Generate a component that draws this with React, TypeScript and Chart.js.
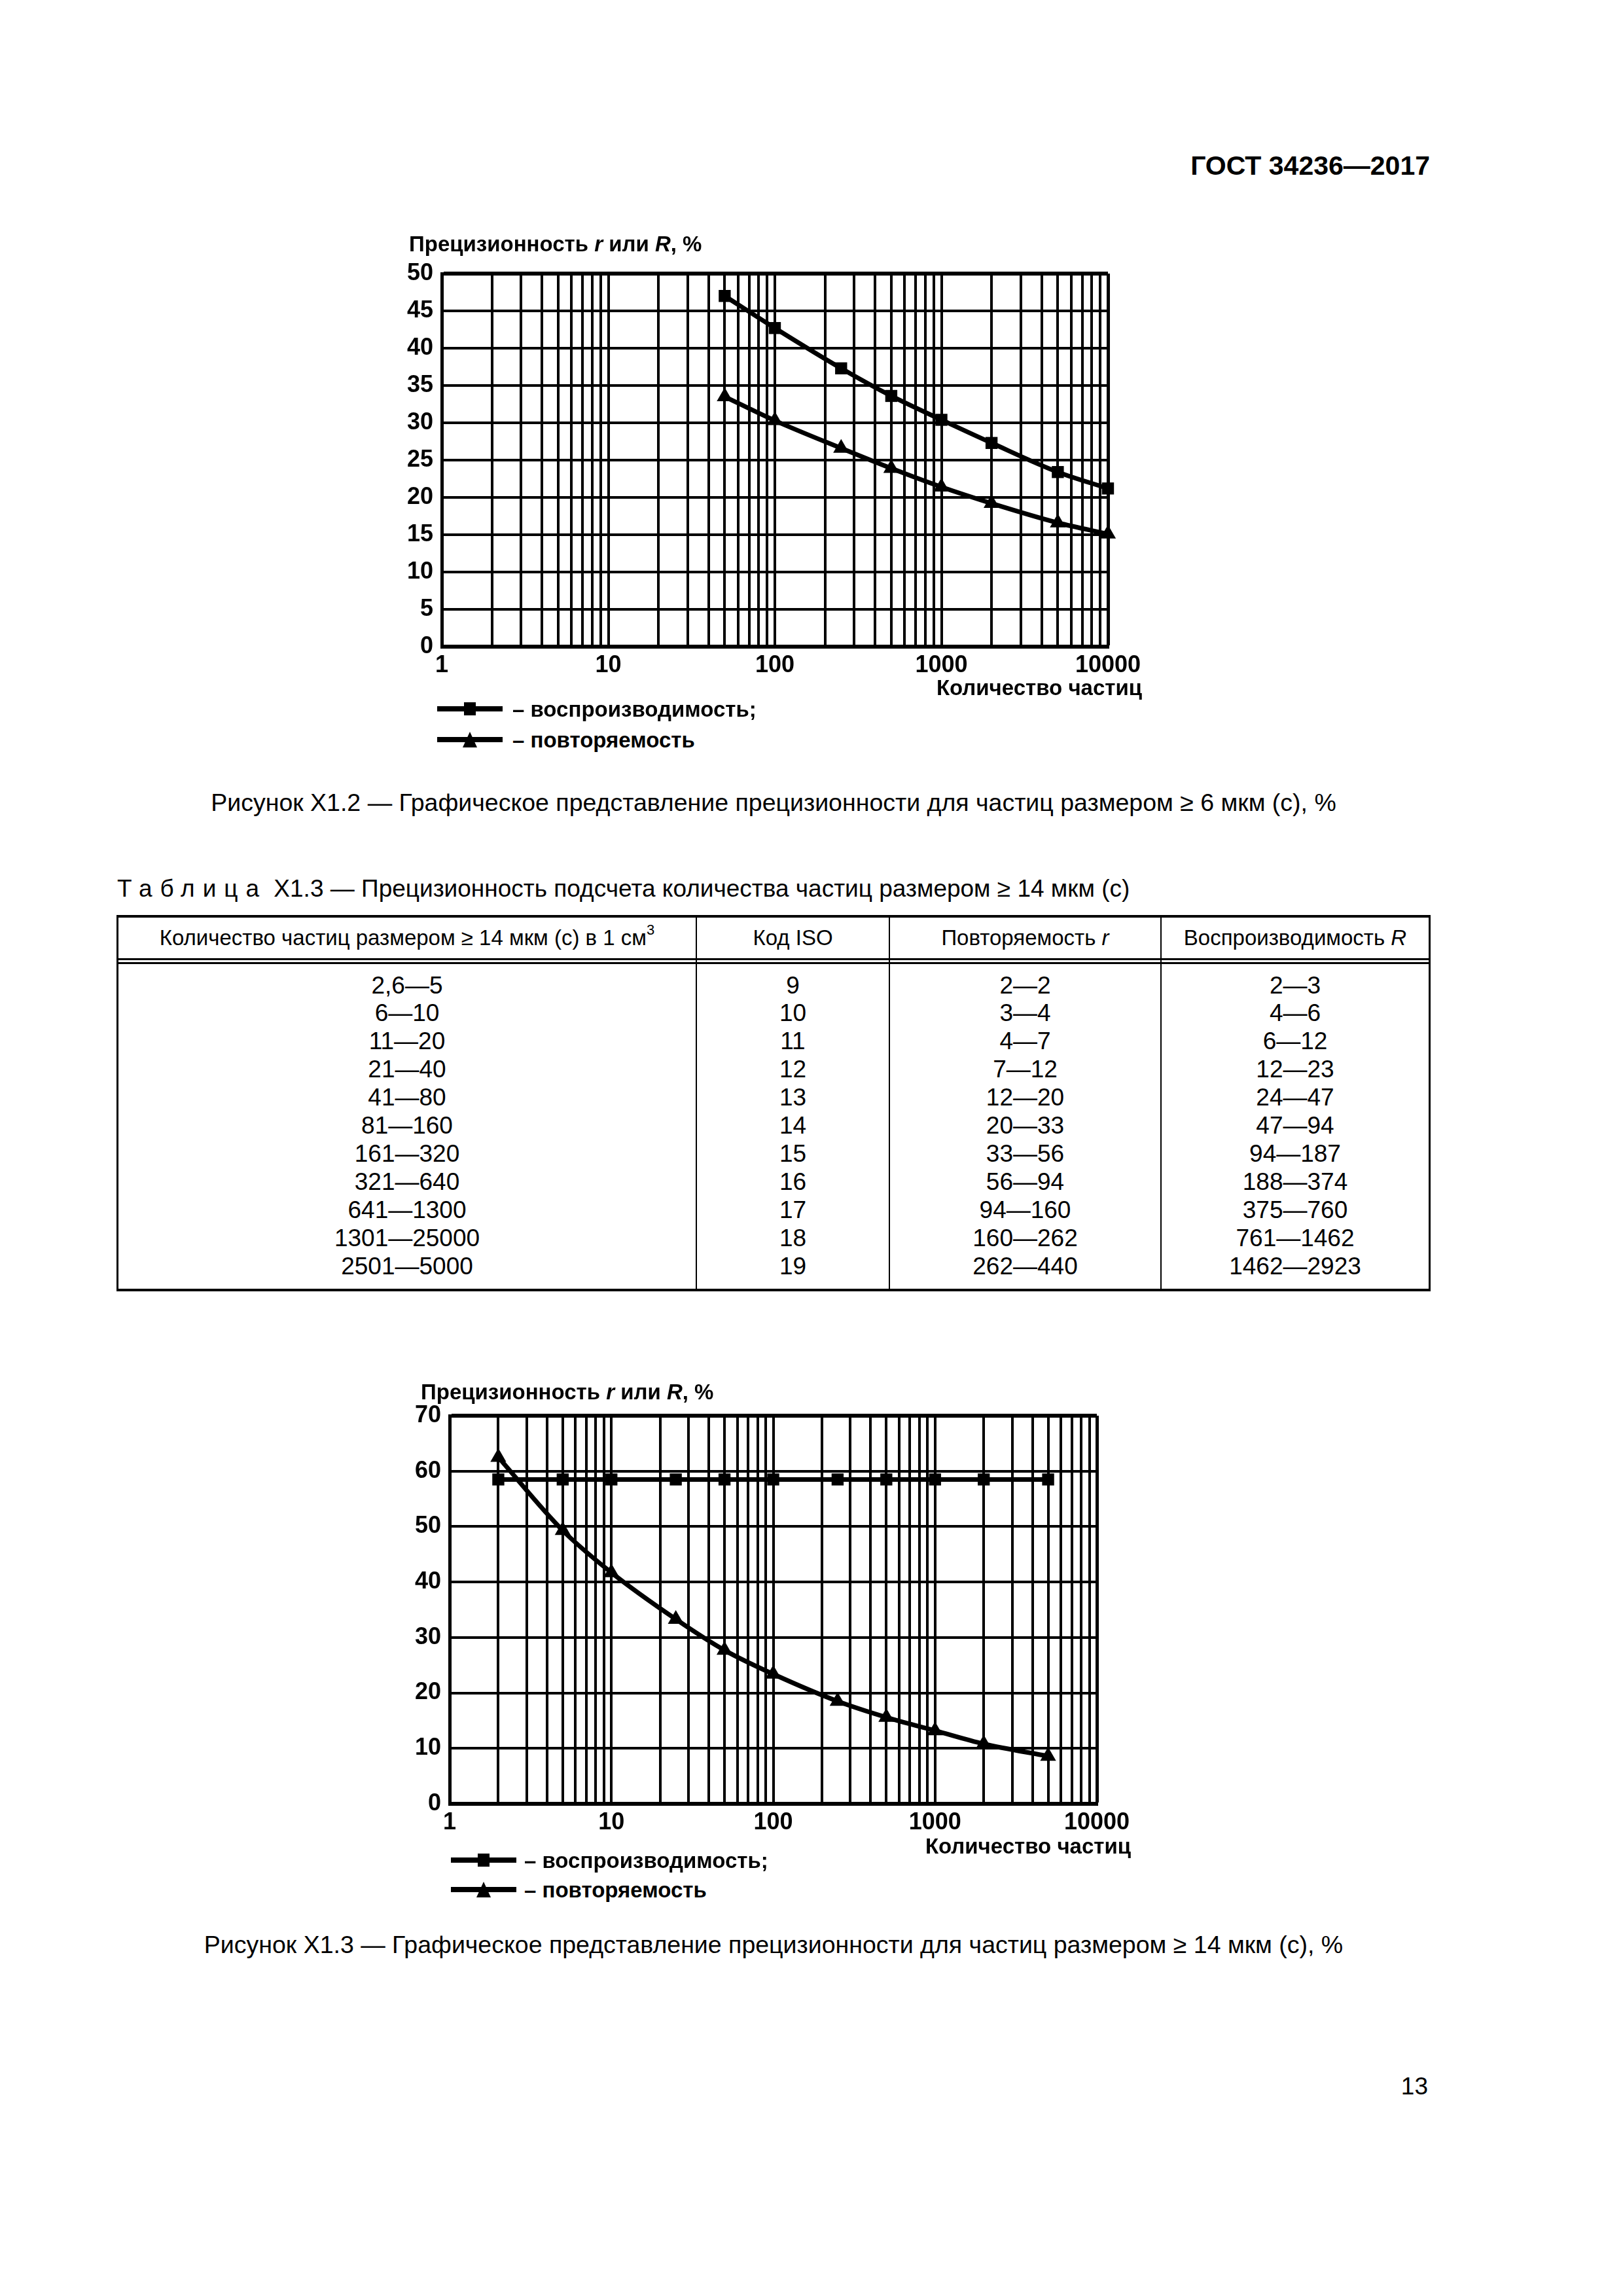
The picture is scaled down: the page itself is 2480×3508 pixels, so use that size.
import React, { useEffect, useRef } from "react";
import { Chart, registerables } from "chart.js";

Chart.register(...registerables);

const FONT = '"Liberation Sans", Arial, Helvetica, sans-serif';

// ---------- Figure X1.2 (particles >= 6 um) ----------
const fig2Counts = [50, 100, 250, 500, 1000, 2000, 5000, 10000];
const fig2Reproducibility = [47.0, 42.7, 37.3, 33.6, 30.4, 27.3, 23.4, 21.2];
const fig2Repeatability = [33.5, 30.3, 26.6, 23.9, 21.4, 19.2, 16.6, 15.1];

// ---------- Figure X1.3 (particles >= 14 um) ----------
const fig3Counts = [2, 5, 10, 25, 50, 100, 250, 500, 1000, 2000, 5000];
const fig3Reproducibility = [58.5, 58.5, 58.5, 58.5, 58.5, 58.5, 58.5, 58.5, 58.5, 58.5, 58.5];
const fig3Repeatability = [62.5, 49.3, 41.7, 33.3, 27.7, 23.4, 18.5, 15.6, 13.2, 10.8, 8.6];

// ---------- Axes ----------
const xDecades = [1, 10, 100, 1000, 10000];
const xDecadeLabels = ["1", "10", "100", "1000", "10000"];
const yTitleMain = "Прецизионность ";
const xTitle = "Количество частиц";
const seriesLabels = ["– воспроизводимость;", "– повторяемость"];

// ---------- Table X1.3 ----------
const tableCounts = ["2,6—5", "6—10", "11—20", "21—40", "41—80", "81—160", "161—320", "321—640", "641—1300", "1301—25000", "2501—5000"];
const tableIso = ["9", "10", "11", "12", "13", "14", "15", "16", "17", "18", "19"];
const tableRepeat = ["2—2", "3—4", "4—7", "7—12", "12—20", "20—33", "33—56", "56—94", "94—160", "160—262", "262—440"];
const tableReprod = ["2—3", "4—6", "6—12", "12—23", "24—47", "47—94", "94—187", "188—374", "375—760", "761—1462", "1462—2923"];

// minor log ticks (1..9 per decade) derived from the decades
const logTicks: number[] = [];
for (let d = 0; d < xDecades.length - 1; d++) {
  for (let m = 1; m <= 9; m++) logTicks.push(m * xDecades[d]);
}
logTicks.push(xDecades[xDecades.length - 1]);

type ChartBoxProps = {
  left: number;
  top: number;
  width: number;
  height: number;
  yAxisWidth: number;
  xAxisHeight: number;
  padTop: number;
  padRight: number;
  counts: number[];
  reprod: number[];
  repeat: number[];
  yMax: number;
  yStep: number;
};

function PrecisionChart(p: ChartBoxProps) {
  const ref = useRef<HTMLCanvasElement | null>(null);
  useEffect(() => {
    if (!ref.current) return;
    const tickFont = { family: FONT, size: 36, weight: "bold" as const };
    const mk = (vals: number[]) => p.counts.map((x, i) => ({ x, y: vals[i] }));
    const chart = new Chart(ref.current, {
      type: "line",
      data: {
        datasets: [
          {
            label: seriesLabels[0],
            data: mk(p.reprod),
            borderColor: "#000",
            backgroundColor: "#000",
            borderWidth: 7,
            pointStyle: "rect",
            pointRadius: 13,
            pointBackgroundColor: "#000",
            pointBorderWidth: 0,
            cubicInterpolationMode: "monotone",
            clip: false as any,
          },
          {
            label: seriesLabels[1],
            data: mk(p.repeat),
            borderColor: "#000",
            backgroundColor: "#000",
            borderWidth: 7,
            pointStyle: "triangle",
            pointRadius: 14,
            pointBackgroundColor: "#000",
            pointBorderWidth: 0,
            cubicInterpolationMode: "monotone",
            clip: false as any,
          },
        ],
      },
      options: {
        responsive: false,
        maintainAspectRatio: false,
        animation: false,
        devicePixelRatio: 1,
        layout: { padding: { top: p.padTop, right: p.padRight, left: 0, bottom: 0 } },
        plugins: { legend: { display: false }, tooltip: { enabled: false }, title: { display: false } },
        scales: {
          x: {
            type: "logarithmic",
            min: xDecades[0],
            max: xDecades[xDecades.length - 1],
            afterBuildTicks: (scale: any) => {
              scale.ticks = logTicks.map((v) => ({ value: v }));
            },
            afterFit: (scale: any) => {
              scale.height = p.xAxisHeight;
            },
            ticks: {
              autoSkip: false,
              maxRotation: 0,
              minRotation: 0,
              padding: 7,
              color: "#000",
              font: tickFont,
              callback: (v: any) => {
                const i = xDecades.indexOf(Number(v));
                return i >= 0 ? xDecadeLabels[i] : "";
              },
            },
            grid: {
              color: "#000",
              lineWidth: (c: any) => (c.tick && c.tick.value === xDecades[xDecades.length - 1] ? 5 : 4),
              drawTicks: false,
            },
            border: { color: "#000", width: 5 },
          },
          y: {
            type: "linear",
            min: 0,
            max: p.yMax,
            afterFit: (scale: any) => {
              scale.width = p.yAxisWidth;
            },
            ticks: {
              stepSize: p.yStep,
              padding: 13,
              color: "#000",
              font: tickFont,
            },
            grid: {
              color: "#000",
              lineWidth: (c: any) => (c.tick && (c.tick.value === p.yMax || c.tick.value === 0) ? 6 : 4),
              drawTicks: false,
            },
            border: { color: "#000", width: 5 },
          },
        },
      },
    });
    return () => chart.destroy();
  }, []);
  return (
    <canvas
      ref={ref}
      width={p.width}
      height={p.height}
      style={{ position: "absolute", left: p.left, top: p.top, width: p.width, height: p.height }}
    />
  );
}

type TxtProps = {
  x: number;
  y: number;
  size: number;
  bold?: boolean;
  align?: "left" | "right" | "center";
  style?: React.CSSProperties;
  children?: React.ReactNode;
};

function Txt({ x, y, size, bold, align = "left", style, children }: TxtProps) {
  const s: React.CSSProperties = {
    position: "absolute",
    top: y - size / 2,
    fontSize: size,
    lineHeight: `${size}px`,
    fontWeight: bold ? 700 : 400,
    whiteSpace: "nowrap",
    fontFamily: FONT,
    color: "#000",
  };
  if (align === "left") s.left = x;
  else if (align === "right") s.right = 2480 - x;
  else {
    s.left = x;
    s.transform = "translateX(-50%)";
  }
  return <div style={{ ...s, ...style }}>{children}</div>;
}

function LegendIcon({ x, y, marker }: { x: number; y: number; marker: "rect" | "triangle" }) {
  return (
    <svg style={{ position: "absolute", left: x, top: y - 15 }} width={100} height={30}>
      <line x1={0} y1={15} x2={100} y2={15} stroke="#000" strokeWidth={8} />
      {marker === "rect" ? (
        <rect x={41} y={5} width={18} height={20} fill="#000" />
      ) : (
        <polygon points="50,3 61,27 39,27" fill="#000" />
      )}
    </svg>
  );
}

function Line({ x, y, w, h }: { x: number; y: number; w: number; h: number }) {
  return <div style={{ position: "absolute", left: x, top: y, width: w, height: h, background: "#000" }} />;
}

function ChartTitle({ x, y }: { x: number; y: number }) {
  return (
    <Txt x={x} y={y} size={33} bold>
      {yTitleMain}
      <i>r</i> или <i>R</i>, %
    </Txt>
  );
}

function Figure({
  titleX,
  titleY,
  xTitleRight,
  xTitleY,
  legendX,
  legendTextX,
  legendY1,
  legendY2,
}: {
  titleX: number;
  titleY: number;
  xTitleRight: number;
  xTitleY: number;
  legendX: number;
  legendTextX: number;
  legendY1: number;
  legendY2: number;
}) {
  return (
    <>
      <ChartTitle x={titleX} y={titleY} />
      <Txt x={xTitleRight} y={xTitleY} size={33} bold align="right">
        {xTitle}
      </Txt>
      <LegendIcon x={legendX} y={legendY1} marker="rect" />
      <Txt x={legendTextX} y={legendY1} size={33} bold>
        {seriesLabels[0]}
      </Txt>
      <LegendIcon x={legendX} y={legendY2} marker="triangle" />
      <Txt x={legendTextX} y={legendY2} size={33} bold>
        {seriesLabels[1]}
      </Txt>
    </>
  );
}

function Table() {
  const colX = [180, 1064, 1359, 1774, 2184];
  const top = 1400;
  const bottom = 1971;
  const centers = colX.slice(0, 4).map((x, i) => (x + colX[i + 1]) / 2);
  const rowY0 = 1505;
  const rowStep = 42.9;
  const fs = 37;
  const hs = 33;
  const cols = [tableCounts, tableIso, tableRepeat, tableReprod];
  return (
    <>
      <Line x={colX[0] - 2} y={top - 2} w={colX[4] - colX[0] + 4} h={4} />
      <Line x={colX[0] - 2} y={1464} w={colX[4] - colX[0] + 4} h={3} />
      <Line x={colX[0] - 2} y={1470} w={colX[4] - colX[0] + 4} h={3} />
      <Line x={colX[0] - 2} y={bottom - 2} w={colX[4] - colX[0] + 4} h={4} />
      <Line x={colX[0] - 2} y={top - 2} w={3} h={bottom - top + 4} />
      <Line x={colX[4] - 1} y={top - 2} w={3} h={bottom - top + 4} />
      {colX.slice(1, 4).map((x, i) => (
        <Line key={i} x={x - 1} y={top} w={2} h={bottom - top} />
      ))}
      <Txt x={centers[0]} y={1432} size={hs} align="center">
        Количество частиц размером ≥ 14 мкм (с) в 1 см
        <sup style={{ fontSize: 22, verticalAlign: "top", lineHeight: "22px", position: "relative", top: -6 }}>3</sup>
      </Txt>
      <Txt x={centers[1]} y={1432} size={hs} align="center">
        Код ISO
      </Txt>
      <Txt x={centers[2]} y={1432} size={hs} align="center">
        Повторяемость <i>r</i>
      </Txt>
      <Txt x={centers[3]} y={1432} size={hs} align="center">
        Воспроизводимость <i>R</i>
      </Txt>
      {cols.map((col, c) =>
        col.map((v, r) => (
          <Txt key={`${c}-${r}`} x={centers[c]} y={rowY0 + r * rowStep} size={fs} align="center">
            {v}
          </Txt>
        ))
      )}
    </>
  );
}

export default function App() {
  return (
    <div
      style={{
        position: "absolute",
        left: 0,
        top: 0,
        width: 2480,
        height: 3508,
        background: "#fff",
        overflow: "hidden",
        fontFamily: FONT,
      }}
    >
      <Txt x={2185} y={253} size={41} bold align="right">
        ГОСТ 34236—2017
      </Txt>

      {/* Figure X1.2 */}
      <PrecisionChart
        left={560}
        top={380}
        width={1220}
        height={700}
        yAxisWidth={115}
        xAxisHeight={92}
        padTop={38}
        padRight={87}
        counts={fig2Counts}
        reprod={fig2Reproducibility}
        repeat={fig2Repeatability}
        yMax={50}
        yStep={5}
      />
      <Figure
        titleX={625}
        titleY={372}
        xTitleRight={1745}
        xTitleY={1050}
        legendX={668}
        legendTextX={783}
        legendY1={1083}
        legendY2={1130}
      />
      <Txt x={1182} y={1227} size={37.5} align="center">
        Рисунок X1.2 — Графическое представление прецизионности для частиц размером ≥ 6 мкм (с), %
      </Txt>

      {/* Table X1.3 */}
      <Txt x={179} y={1357} size={37}>
        <span style={{ letterSpacing: 12 }}>Таблица</span>
        {"  X1.3 — Прецизионность подсчета количества частиц размером ≥ 14 мкм (с)"}
      </Txt>
      <Table />

      {/* Figure X1.3 */}
      <PrecisionChart
        left={570}
        top={2120}
        width={1200}
        height={730}
        yAxisWidth={117}
        xAxisHeight={94}
        padTop={43}
        padRight={94}
        counts={fig3Counts}
        reprod={fig3Reproducibility}
        repeat={fig3Repeatability}
        yMax={70}
        yStep={10}
      />
      <Figure
        titleX={643}
        titleY={2126}
        xTitleRight={1728}
        xTitleY={2820}
        legendX={689}
        legendTextX={801}
        legendY1={2842}
        legendY2={2887}
      />
      <Txt x={1182} y={2972} size={37.5} align="center">
        Рисунок X1.3 — Графическое представление прецизионности для частиц размером ≥ 14 мкм (с), %
      </Txt>

      <Txt x={2182} y={3187} size={37} align="right">
        13
      </Txt>
    </div>
  );
}
